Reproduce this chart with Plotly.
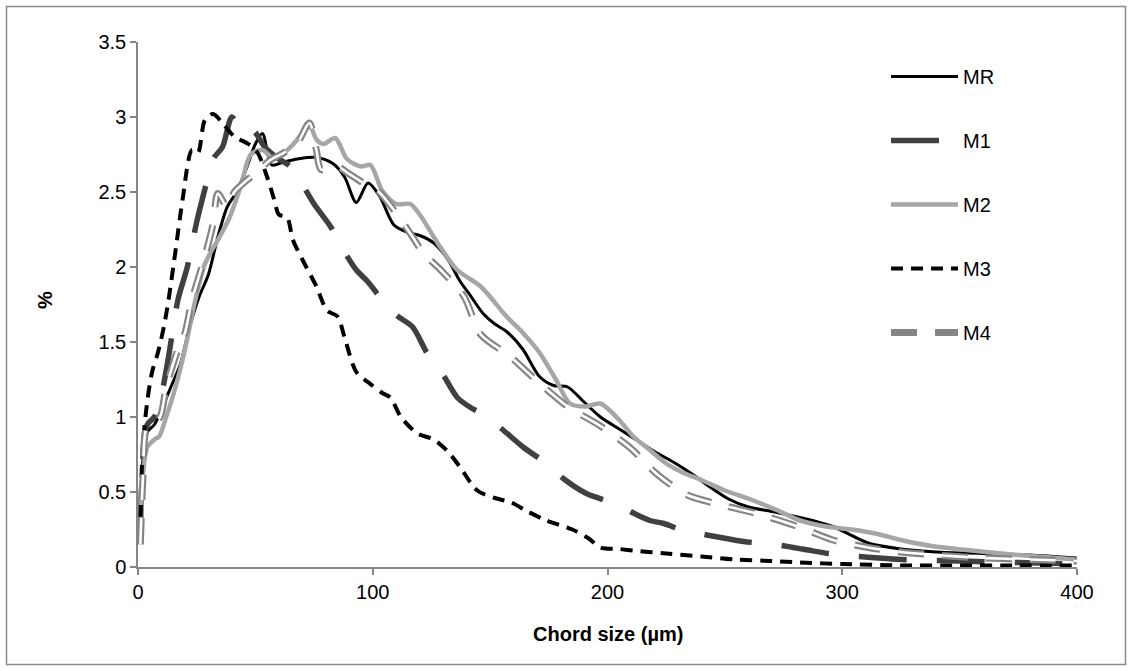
import plotly.graph_objects as go

# ---------------- data ----------------
mr_x = [1, 2, 4, 7, 10, 14, 18, 22, 26, 30, 34, 38, 42, 46, 50, 53, 57, 62, 68, 76, 83, 88, 93, 98,
        103, 109, 115, 120, 126, 132, 137, 142, 147, 152, 157, 164, 171, 177, 183, 190, 197, 205,
        212, 220, 228, 236, 244, 252, 260, 270, 282, 296, 311, 325, 340, 360, 380, 400]
mr_y = [0.18, 0.7, 0.9, 0.95, 1.05, 1.2, 1.35, 1.6, 1.8, 1.95, 2.2, 2.4, 2.5, 2.65, 2.82, 2.89, 2.68,
        2.7, 2.72, 2.73, 2.69, 2.6, 2.43, 2.56, 2.47, 2.28, 2.23, 2.21, 2.16, 2.05, 1.91, 1.8, 1.69,
        1.62, 1.57, 1.45, 1.27, 1.21, 1.2, 1.1, 1.0, 0.92, 0.85, 0.77, 0.7, 0.62, 0.53, 0.45, 0.4,
        0.37, 0.33, 0.27, 0.16, 0.12, 0.1, 0.09, 0.08, 0.06]

m1_x = [1, 2, 4, 7, 10, 13, 17, 21, 25, 29, 32, 36, 40, 44, 49, 54, 60, 65, 70, 75, 82, 88, 93, 98,
        103, 110, 117, 123, 130, 136, 142, 147, 155, 164, 174, 182, 191, 198, 204, 211, 218, 224,
        231, 237, 247, 258, 271, 283, 294, 307, 325, 350, 375, 400]
m1_y = [0.2, 0.7, 0.95, 1.0, 1.15, 1.4, 1.78, 2.0, 2.3, 2.55, 2.72, 2.8, 3.0, 2.9, 2.91, 2.8, 2.72,
        2.67, 2.55, 2.42, 2.27, 2.1, 1.98, 1.9, 1.8, 1.68, 1.6, 1.43, 1.28, 1.13, 1.06, 1.02, 0.92,
        0.8, 0.69, 0.58, 0.49, 0.45, 0.42, 0.36, 0.31, 0.29, 0.25, 0.23, 0.2, 0.17, 0.15, 0.12, 0.09,
        0.07, 0.05, 0.04, 0.03, 0.02]

m2_x = [1, 2, 4, 7, 9, 12, 16, 20, 24, 28, 31, 34, 39, 44, 48, 53, 58, 65, 70, 73, 76, 79, 84, 89,
        95, 99, 104, 110, 116, 120, 128, 136, 146, 157, 164, 171, 178, 184, 191, 197, 205, 211, 218,
        225, 232, 240, 250, 261, 272, 282, 293, 304, 315, 325, 338, 355, 375, 400]
m2_y = [0.2, 0.6, 0.8, 0.85, 0.87, 1.0, 1.2, 1.45, 1.75, 2.0, 2.1, 2.18, 2.33, 2.55, 2.75, 2.78, 2.72,
        2.8, 2.89, 2.95, 2.85, 2.82, 2.86, 2.72, 2.67, 2.68, 2.51, 2.42, 2.42, 2.35, 2.15, 1.98, 1.87,
        1.67, 1.56, 1.43, 1.25, 1.09, 1.07, 1.09, 0.98, 0.87, 0.78, 0.69, 0.63, 0.58, 0.51, 0.45,
        0.38, 0.31, 0.27, 0.25, 0.22, 0.18, 0.14, 0.11, 0.08, 0.05]

m3_x = [1, 2, 4, 6, 8.5, 11, 13, 16, 19, 23, 25.5, 28.5, 32, 36, 41, 47, 51, 55, 58, 60, 63.5, 66,
        70, 76, 80.5, 85, 88, 93, 99, 104, 107.5, 112, 119, 126, 132, 137, 144.5, 152, 159, 166, 174,
        185, 192, 197, 205, 211, 225, 240, 254, 270, 282, 300, 325, 350, 375, 400]
m3_y = [0.2, 0.8, 1.11, 1.3, 1.43, 1.6, 1.78, 2.11, 2.45, 2.78, 2.76, 2.98, 3.02, 2.96, 2.87, 2.82,
        2.76, 2.6, 2.45, 2.35, 2.33, 2.18, 2.05, 1.87, 1.71, 1.67, 1.53, 1.3, 1.22, 1.16, 1.13, 1.0,
        0.89, 0.85, 0.77, 0.67, 0.51, 0.46, 0.43, 0.37, 0.31, 0.25, 0.19, 0.13, 0.12, 0.11, 0.09,
        0.07, 0.05, 0.04, 0.03, 0.02, 0.01, 0.01, 0.01, 0.01]

m4_x = [1, 2, 3.7, 6, 9.4, 12, 14.5, 17, 20, 23, 26.4, 29, 32, 34, 38, 41, 45, 52, 56, 62, 68, 73,
        76, 78, 85, 89, 96, 102, 109, 117, 121.6, 129, 139, 146, 158, 170, 183, 197, 210, 221, 234,
        249.5, 265, 281, 296, 311, 325, 340, 360, 380, 400]
m4_y = [0.15, 0.56, 0.93, 0.95, 1.0, 1.2, 1.33, 1.45, 1.56, 1.78, 1.96, 2.1, 2.29, 2.49, 2.4, 2.5,
        2.56, 2.65, 2.71, 2.76, 2.83, 2.96, 2.78, 2.65, 2.67, 2.63, 2.56, 2.51, 2.38, 2.2, 2.09, 1.98,
        1.8, 1.55, 1.41, 1.24, 1.07, 0.94, 0.79, 0.62, 0.48, 0.41, 0.35, 0.27, 0.18, 0.13, 0.1, 0.08,
        0.06, 0.05, 0.04]

x_ticks = [0, 100, 200, 300, 400]
y_ticks = [0, 0.5, 1, 1.5, 2, 2.5, 3, 3.5]

# ---------------- figure ----------------
W, H = 1132, 671
L, R, T, B = 138, 55, 42, 104
pw, ph = W - L - R, H - T - B

FONT = "Liberation Sans, Arial, sans-serif"
AX = "#868686"

fig = go.Figure()

def add(name, xs, ys, color, width, dash, show=True, group=None):
    fig.add_trace(go.Scatter(
        x=xs, y=ys, mode="lines", name=name, showlegend=show,
        legendgroup=group or name,
        line=dict(color=color, width=width, dash=dash, shape="spline", smoothing=0.8),
        hoverinfo="skip"))

add("MR", mr_x, mr_y, "#000000", 3, "solid")
add("M1", m1_x, m1_y, "#404040", 5.5, "48px,30px")
add("M2", m2_x, m2_y, "#a6a6a6", 4.5, "solid")
add("M3", m3_x, m3_y, "#000000", 4, "12px,8px")
add("M4", m4_x, m4_y, "#858585", 7, "26px,18px")
add("M4", m4_x, m4_y, "#ffffff", 2.6, "26px,18px", show=False, group="M4")

def px_x(p):
    return (p - L) / pw

def px_y(p):
    return (H - B - p) / ph

fig.update_layout(
    width=W, height=H,
    margin=dict(l=L, r=R, t=T, b=B),
    paper_bgcolor="white", plot_bgcolor="white",
    font=dict(family=FONT, size=20, color="#000000"),
    showlegend=True,
    legend=dict(x=px_x(886), y=px_y(57), xanchor="left", yanchor="top",
                font=dict(size=20, family=FONT), tracegroupgap=35, itemwidth=67,
                traceorder="grouped", bgcolor="rgba(0,0,0,0)"),
    xaxis=dict(range=[0, 400], tickvals=x_ticks, ticktext=[str(v) for v in x_ticks],
               showgrid=False, zeroline=False, showline=True, linecolor=AX, linewidth=1.5,
               ticks="outside", tickcolor=AX, ticklen=6, tickwidth=1.5,
               tickfont=dict(size=20, family=FONT)),
    yaxis=dict(range=[0, 3.5], tickvals=y_ticks, ticktext=[f"{v:g}" for v in y_ticks],
               showgrid=False, zeroline=False, showline=True, linecolor=AX, linewidth=1.5,
               ticks="outside", tickcolor=AX, ticklen=6, tickwidth=1.5,
               tickfont=dict(size=20, family=FONT)),
    annotations=[
        dict(text="<b>Chord size (µm)</b>", xref="paper", yref="paper",
             x=0.5, y=px_y(634), xanchor="center", yanchor="middle", showarrow=False,
             font=dict(size=20, family=FONT)),
        dict(text="<b>%</b>", xref="paper", yref="paper", textangle=-90,
             x=px_x(45), y=px_y(300), xanchor="center", yanchor="middle", showarrow=False,
             font=dict(size=20, family=FONT)),
    ],
    shapes=[dict(type="rect", xref="paper", yref="paper",
                 x0=px_x(6.5), x1=px_x(1125.5), y0=px_y(664.5), y1=px_y(6.5),
                 line=dict(color="#8a8a8a", width=1.5), fillcolor="rgba(0,0,0,0)", layer="below")],
)

fig.write_html("out.html", config={"displayModeBar": False},
               post_script="document.body.style.margin='0px';document.body.style.overflow='hidden';")
